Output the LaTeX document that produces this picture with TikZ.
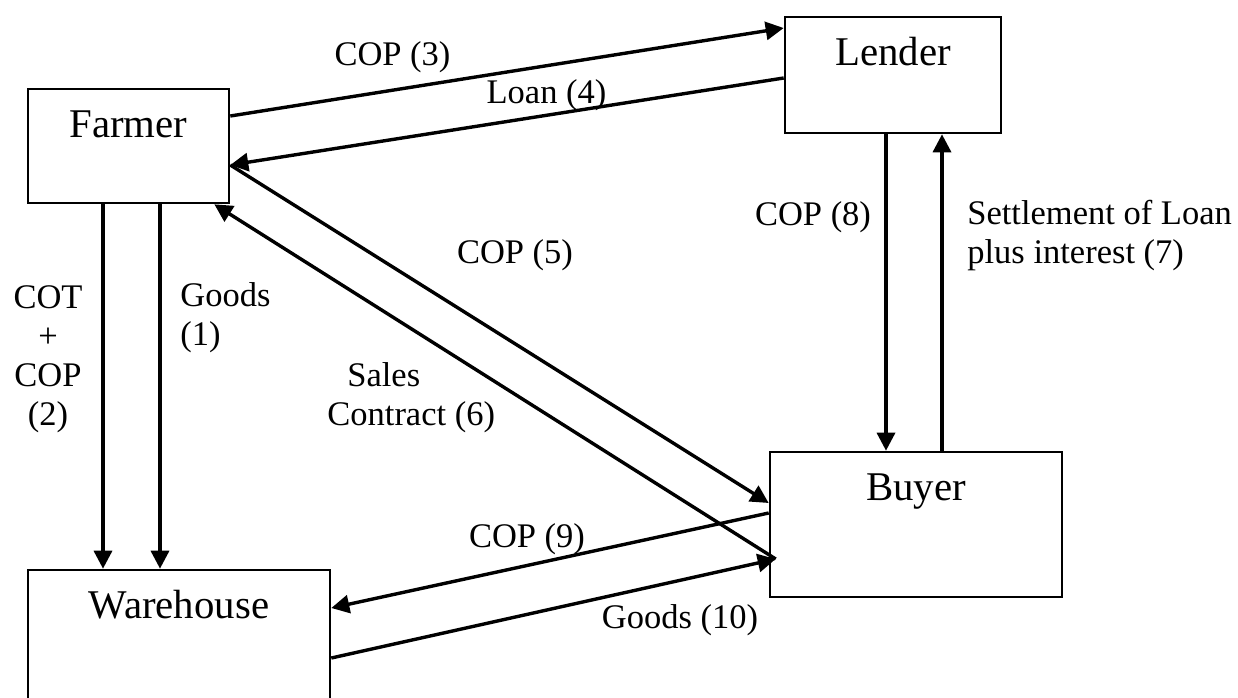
\documentclass[tikz,border=0pt]{standalone}
\usepackage{fontspec}
\setmainfont{Liberation Serif}
\usetikzlibrary{arrows.meta, positioning}

\tikzset{
	party/.style={draw=black, line width=1.3pt, rectangle, inner sep=0pt},
	partyname/.style={font=\fontsize{20.4}{24}\selectfont, inner sep=0pt,
		anchor=base, yshift=-25pt},
	flow/.style={line width=1.7pt, -{Triangle[length=9pt,width=9pt]}},
	tag/.style={font=\fontsize{17.25}{19.5}\selectfont, inner sep=0pt, anchor=base}
}

\begin{document}
\begin{tikzpicture}[x=0.5pt, y=-0.5pt]
	\useasboundingbox (0,0) rectangle (1238,697);

	% the parties
	\node[party, minimum width=100.5pt, minimum height=57pt,
		  label={[partyname]north:Farmer}] (farmer) at (128.5,146) {};
	\node[party, minimum width=108pt, minimum height=58pt,
		  label={[partyname]north:Lender}] (lender) at (893,75) {};
	\node[party, minimum width=146pt, minimum height=72.5pt,
		  label={[partyname]north:Buyer}] (buyer) at (916,524.5) {};
	\node[party, minimum width=151pt, minimum height=66pt,
		  label={[partyname]north:Warehouse}] (warehouse) at (179,636) {};

	% flows
	\draw[flow] ([xshift=-12.75pt]farmer.south) coordinate (f2) -- (f2 |- warehouse.north);
	\draw[flow] ([xshift=15.75pt]farmer.south) coordinate (f1) -- (f1 |- warehouse.north);
	\draw[flow] ([yshift=15pt]farmer.east) -- ([yshift=23.5pt]lender.west);
	\draw[flow] ([yshift=-1.5pt]lender.west) -- ([yshift=-9.5pt]farmer.east);
	\draw[flow] ([yshift=-9.5pt]farmer.east) -- ([yshift=10.75pt]buyer.west);
	\draw[flow] ([xshift=3.5pt,yshift=-17.25pt]buyer.west) -- ([xshift=-8pt]farmer.south east);
	\draw[flow] ([xshift=-3.5pt]lender.south) coordinate (l8) -- (l8 |- buyer.north);
	\draw[flow] ([xshift=13pt]buyer.north) coordinate (b7) -- (b7 |- lender.south);
	\draw[flow] ([yshift=5.75pt]buyer.west) -- ([yshift=14pt]warehouse.east);
	\draw[flow] ([yshift=-11pt]warehouse.east) -- ([xshift=3.5pt,yshift=-17.25pt]buyer.west);

	% labels (multi-line ones sit on their last baseline)
	\node[tag, align=center] (cop2) at (48,425) {COT\\+\\COP\\(2)};
	\node[tag, align=left, anchor=base west] (goods1) at (180,345) {Goods\\(1)};
	\node[tag] (cop3) at (392.5,65) {COP (3)};
	\node[tag] (loan4) at (546.5,103) {Loan (4)};
	\node[tag] (cop5) at (515,263) {COP (5)};
	\node[tag, align=left, anchor=base west] (sales6) at (327,425) {\hspace*{10pt}Sales\\Contract (6)};
	\node[tag, align=left, anchor=base west] (settle7) at (967,263) {Settlement of Loan\\plus interest (7)};
	\node[tag] (cop8) at (813,225) {COP (8)};
	\node[tag] (cop9) at (527,547) {COP (9)};
	\node[tag] (goods10) at (680,628) {Goods (10)};
\end{tikzpicture}
\end{document}
